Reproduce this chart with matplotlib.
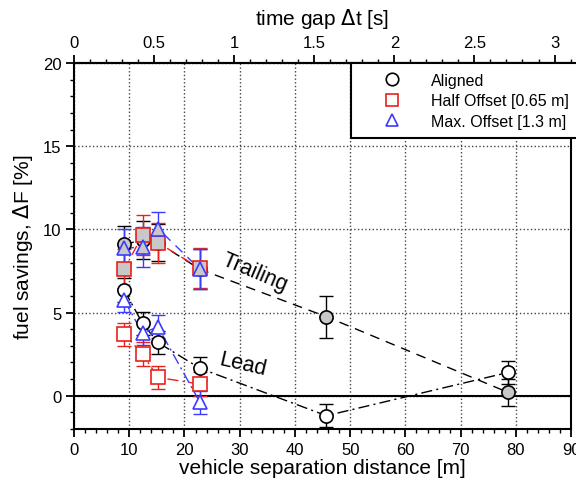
import matplotlib.pyplot as plt
import numpy as np

plt.rcParams['font.family'] = ['Liberation Sans', 'DejaVu Sans']

# vehicle speed used for the time-gap axis [m/s]
speed = 29.0

# aligned
al_x = [9.1, 12.4, 15.2, 22.8, 45.7, 78.6]
al_trail = [9.1, 9.35, 9.2, 7.6, 4.75, 0.2]
al_trail_err = [1.1, 1.15, 1.1, 1.2, 1.25, 0.8]
al_lead = [6.35, 4.35, 3.2, 1.65, -1.2, 1.4]
al_lead_err = [0.7, 0.7, 0.7, 0.7, 0.7, 0.7]

# half offset [0.65 m]
ho_x = [9.1, 12.4, 15.2, 22.8]
ho_trail = [7.6, 9.65, 9.2, 7.65]
ho_trail_err = [1.2, 1.2, 1.2, 1.2]
ho_lead = [3.7, 2.5, 1.1, 0.7]
ho_lead_err = [0.7, 0.7, 0.7, 0.7]

# max offset [1.3 m]
mo_x = [9.1, 12.4, 15.2, 22.8]
mo_trail = [8.85, 8.95, 10.05, 7.6]
mo_trail_err = [1.2, 1.2, 1.0, 1.2]
mo_lead = [5.75, 3.75, 4.15, -0.4]
mo_lead_err = [0.7, 0.7, 0.7, 0.7]

fig = plt.figure(figsize=(5.76, 4.81), dpi=100)
ax = fig.add_axes([0.1285, 0.106, 0.863, 0.761])

gray = '#c8c8c8'
series = [
    (al_x, al_trail, al_trail_err, al_lead, al_lead_err, 'black', 'o', 'Aligned'),
    (ho_x, ho_trail, ho_trail_err, ho_lead, ho_lead_err, '#e8211c', 's', 'Half Offset [0.65 m]'),
    (mo_x, mo_trail, mo_trail_err, mo_lead, mo_lead_err, '#3b3bff', '^', 'Max. Offset [1.3 m]'),
]

for x, tr, tre, ld, lde, c, m, lab in series:
    lw = 1.0
    # trailing: dashed line, gray filled markers
    ax.errorbar(x, tr, yerr=tre, fmt='none', ecolor=c, elinewidth=1, capsize=5, zorder=3)
    ax.plot(x, tr, linestyle=(0, (7, 5)), color=c, lw=lw, zorder=3)
    ax.plot(x, tr, linestyle='none', marker=m, ms=9.5, mfc=gray, mec=c, mew=1.2, zorder=4)
    # lead: dash-dot line, open markers
    ax.errorbar(x, ld, yerr=lde, fmt='none', ecolor=c, elinewidth=1, capsize=5, zorder=3)
    ax.plot(x, ld, linestyle=(0, (8, 3, 1.5, 3)), color=c, lw=lw, zorder=3)
    ax.plot(x, ld, linestyle='none', marker=m, ms=9.5, mfc='white', mec=c, mew=1.2, zorder=4)
    # legend proxy
    ax.plot([], [], linestyle='none', marker=m, ms=9, mfc='none', mec=c, mew=1.2, label=lab)

ax.axhline(0, color='black', lw=1.5, zorder=2)

ax.set_xlim(0, 90)
ax.set_ylim(-2, 20)
ax.set_xticks(np.arange(0, 91, 10))
ax.set_xticks(np.arange(0, 91, 2), minor=True)
ax.set_yticks([0, 5, 10, 15, 20])
ax.set_yticks(np.arange(-2, 21, 1), minor=True)
ax.grid(True, which='major', linestyle=':', color='#444444', lw=1)
ax.set_axisbelow(True)

for s in ax.spines.values():
    s.set_linewidth(1.5)
ax.tick_params(which='major', direction='out', length=6, width=1.3, labelsize=12, pad=3)
ax.tick_params(which='minor', direction='out', length=3, width=1)

ax.set_xlabel('vehicle separation distance [m]', fontsize=15, labelpad=1)
ax.set_ylabel('fuel savings, $\\Delta$F [%]', fontsize=15, labelpad=6)

top = ax.secondary_xaxis('top', functions=(lambda d: d / speed, lambda t: t * speed))
top.set_xticks(np.arange(0, 3.01, 0.5))
top.set_xticklabels(['0', '0.5', '1', '1.5', '2', '2.5', '3'])
top.set_xticks(np.arange(0, 3.11, 0.1), minor=True)
top.tick_params(which='major', direction='out', length=6, width=1.3, labelsize=12, pad=3)
top.tick_params(which='minor', direction='out', length=3, width=1)
top.spines['top'].set_linewidth(1.5)
top.set_xlabel('time gap $\\Delta$t [s]', fontsize=15, labelpad=8)

ax.text(32.8, 7.45, 'Trailing', fontsize=15.5, rotation=-23, ha='center', va='center')
ax.text(30.6, 1.9, 'Lead', fontsize=15.5, rotation=-13, ha='center', va='center')

leg = ax.legend(loc='upper left', bbox_to_anchor=(0.557, 1.0), fontsize=11.5, fancybox=False,
                framealpha=1, edgecolor='black', handletextpad=0.5, borderpad=0.6,
                labelspacing=0.35, borderaxespad=0, handlelength=3.9)
leg.get_frame().set_linewidth(1.5)

plt.savefig('out.png', dpi=100)
